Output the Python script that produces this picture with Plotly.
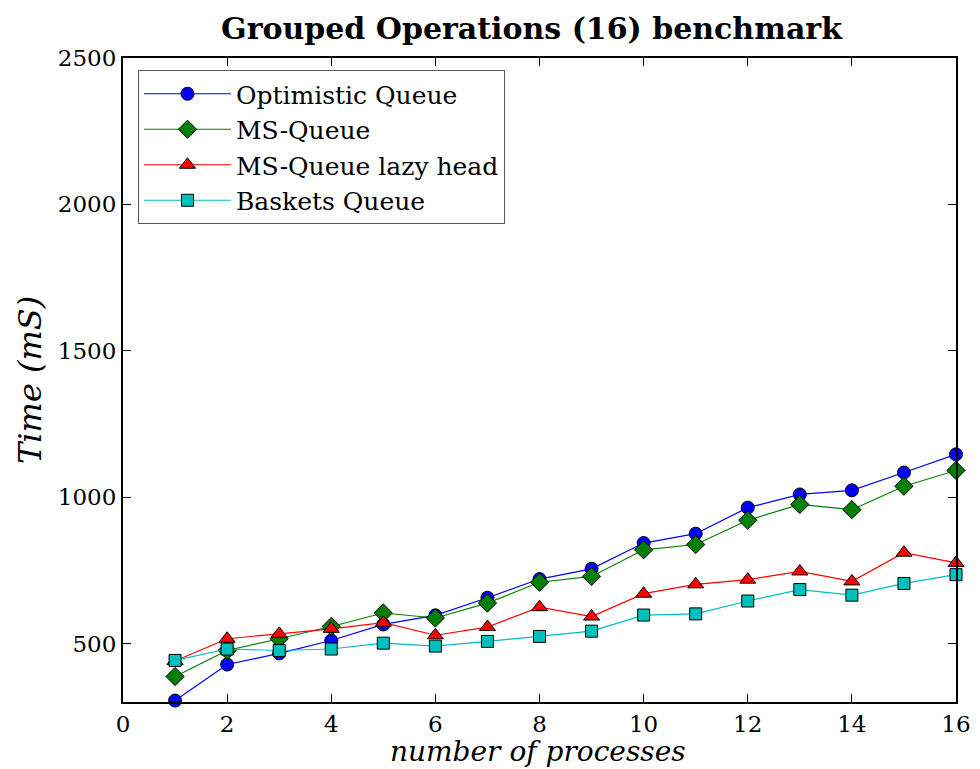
import plotly.graph_objects as go

processes = list(range(1, 17))
optimistic = [305, 428, 466, 510, 565, 596, 656, 720, 755, 843, 875, 964, 1009, 1023, 1084, 1146]
ms_queue = [387, 476, 516, 558, 604, 587, 638, 709, 729, 820, 838, 921, 975, 957, 1037, 1091]
ms_lazy = [440, 516, 533, 550, 571, 528, 556, 624, 592, 670, 702, 718, 746, 712, 810, 775]
baskets = [442, 481, 476, 481, 501, 491, 507, 524, 542, 597, 601, 645, 684, 665, 705, 735]

x_ticks = [0, 2, 4, 6, 8, 10, 12, 14, 16]
y_ticks = [500, 1000, 1500, 2000, 2500]

series = [
    ("Optimistic Queue", optimistic, "#0000ff", "circle", 13),
    ("MS-Queue", ms_queue, "#008000", "diamond", 14),
    ("MS-Queue lazy head", ms_lazy, "#ff0000", "triangle-up", 14),
    ("Baskets Queue", baskets, "#00bfbf", "square", 12),
]

fig = go.Figure()
for name, ys, color, sym, sz in series:
    fig.add_trace(go.Scatter(
        x=processes, y=ys, name=name, mode="lines+markers",
        line=dict(color=color, width=1.2),
        marker=dict(symbol=sym, size=sz, color=color, line=dict(color="black", width=1)),
        cliponaxis=False,
    ))

axis_common = dict(
    showline=True, linecolor="black", linewidth=2, mirror="allticks",
    ticks="inside", ticklen=8, tickwidth=1, tickcolor="black",
    showgrid=False, zeroline=False,
    tickfont=dict(family="DejaVu Serif", size=23, color="black"),
)

# page body has an 8px default margin; margins below compensate for it
fig.update_layout(
    width=980, height=769,
    paper_bgcolor="white", plot_bgcolor="white",
    margin=dict(l=115, r=32, t=50, b=75),
    title=dict(text="<b>Grouped Operations (16) benchmark</b>", xref="container",
               x=(531.5 - 8) / 980, xanchor="center",
               y=1 - (28 - 8) / 769, yanchor="middle",
               font=dict(family="DejaVu Serif", size=30, color="black")),
    xaxis=dict(range=[0, 16], tickvals=x_ticks, **axis_common),
    yaxis=dict(range=[300, 2500], tickvals=y_ticks, **axis_common),
    legend=dict(x=(138 - 123) / 833, y=1 - (70 - 58) / 644, xanchor="left", yanchor="top",
                bgcolor="white", bordercolor="#555555", borderwidth=1,
                font=dict(family="DejaVu Serif", size=25, color="black"),
                itemwidth=87, tracegroupgap=0),
    showlegend=True,
    annotations=[
        dict(text="<i>number of processes</i>", xref="paper", yref="paper",
             x=(538 - 123) / 833, y=0, xanchor="center", yanchor="middle",
             yshift=-(751 - 702), showarrow=False,
             font=dict(family="DejaVu Serif", size=28, color="black")),
        dict(text="<i>Time (mS)</i>", xref="paper", yref="paper",
             x=0, y=(702 - 380) / 644, xanchor="center", yanchor="middle", textangle=-90,
             xshift=-(123 - 30), showarrow=False,
             font=dict(family="DejaVu Serif", size=32, color="black")),
    ],
)

fig.write_html("out.html")
